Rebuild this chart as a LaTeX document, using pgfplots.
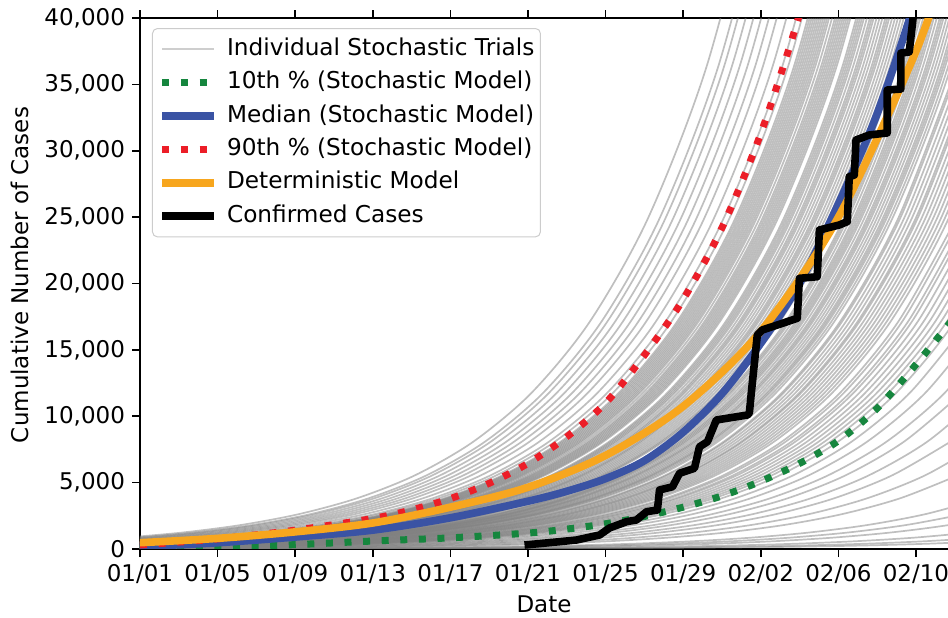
\documentclass[border=0pt]{standalone}
\usepackage{fontspec}
\setmainfont{DejaVu Sans}
\usepackage{pgfplots}
\usepackage{pgfplotstable}
\pgfplotsset{compat=1.18}
\definecolor{cgreen}{RGB}{22,134,62}
\definecolor{cblue}{RGB}{58,83,164}
\definecolor{cred}{RGB}{236,30,40}
\definecolor{corange}{RGB}{247,166,30}
\definecolor{ctrial}{RGB}{128,128,128}
\definecolor{cleg}{RGB}{204,204,204}

\pgfplotstableread{
Y a b c d e f g h i j k
90 0 -0.7 -1.3 -1.9 -2.4 -2.9 -0.4 -1.0 -1.6 -2.2 -2.7
131 3 2.3 1.7 1.1 0.6 0.1 2.6 2.0 1.4 0.8 0.3
191 6 5.3 4.7 4.1 3.6 3.1 5.6 5.0 4.4 3.8 3.3
277 9 8.3 7.7 7.1 6.6 6.1 8.6 8.0 7.4 6.8 6.3
403 12 11.3 10.7 10.1 9.6 9.1 11.6 11.0 10.4 9.8 9.3
587 15 14.3 13.7 13.1 12.6 12.1 14.6 14.0 13.4 12.8 12.3
854 18 17.3 16.7 16.1 15.6 15.1 17.6 17.0 16.4 15.8 15.3
1243 21 20.3 19.7 19.1 18.6 18.1 20.6 20.0 19.4 18.8 18.3
1808 24 23.3 22.7 22.1 21.6 21.1 23.6 23.0 22.4 21.8 21.3
2631 27 26.3 25.7 25.1 24.6 24.1 26.6 26.0 25.4 24.8 24.3
3828 30 29.3 28.7 28.1 27.6 27.1 29.6 29.0 28.4 27.8 27.3
5569 33 32.3 31.7 31.1 30.6 30.1 32.6 32.0 31.4 30.8 30.3
8103 36 35.3 34.7 34.1 33.6 33.1 35.6 35.0 34.4 33.8 33.3
11789 39 38.3 37.7 37.1 36.6 36.1 38.6 38.0 37.4 36.8 36.3
17154 42 41.3 40.7 40.1 39.6 39.1 41.6 41.0 40.4 39.8 39.3
24959 45 44.3 43.7 43.1 42.6 42.1 44.6 44.0 43.4 42.8 42.3
}\gA

\pgfplotstableread{
Y a b c d e f g h i j k l m n o
131 -0.3 -0.7 -1.1 -1.5 -1.9 -2.2 -2.6 -2.9 -0.5 -0.9 -1.3 -1.7 -2.0 -2.4 -2.8
191 2.7 2.3 1.9 1.5 1.1 0.8 0.4 0.1 2.5 2.1 1.7 1.3 1.0 0.6 0.2
277 5.7 5.3 4.9 4.5 4.1 3.8 3.4 3.1 5.5 5.1 4.7 4.3 4.0 3.6 3.2
403 8.7 8.3 7.9 7.5 7.1 6.8 6.4 6.1 8.5 8.1 7.7 7.3 7.0 6.6 6.2
587 11.7 11.3 10.9 10.5 10.1 9.8 9.4 9.1 11.5 11.1 10.7 10.3 10.0 9.6 9.2
854 14.7 14.3 13.9 13.5 13.1 12.8 12.4 12.1 14.5 14.1 13.7 13.3 13.0 12.6 12.2
1243 17.7 17.3 16.9 16.5 16.1 15.8 15.4 15.1 17.5 17.1 16.7 16.3 16.0 15.6 15.2
1808 20.7 20.3 19.9 19.5 19.1 18.8 18.4 18.1 20.5 20.1 19.7 19.3 19.0 18.6 18.2
2631 23.7 23.3 22.9 22.5 22.1 21.8 21.4 21.1 23.5 23.1 22.7 22.3 22.0 21.6 21.2
3828 26.7 26.3 25.9 25.5 25.1 24.8 24.4 24.1 26.5 26.1 25.7 25.3 25.0 24.6 24.2
5569 29.7 29.3 28.9 28.5 28.1 27.8 27.4 27.1 29.5 29.1 28.7 28.3 28.0 27.6 27.2
8103 32.7 32.3 31.9 31.5 31.1 30.8 30.4 30.1 32.5 32.1 31.7 31.3 31.0 30.6 30.2
11789 35.7 35.3 34.9 34.5 34.1 33.8 33.4 33.1 35.5 35.1 34.7 34.3 34.0 33.6 33.2
17154 38.7 38.3 37.9 37.5 37.1 36.8 36.4 36.1 38.5 38.1 37.7 37.3 37.0 36.6 36.2
24959 41.7 41.3 40.9 40.5 40.1 39.8 39.4 39.1 41.5 41.1 40.7 40.3 40.0 39.6 39.2
36316 44.7 44.3 43.9 43.5 43.1 42.8 42.4 42.1 44.5 44.1 43.7 43.3 43.0 42.6 42.2
}\gB

\pgfplotstableread{
Y a b c d e f g h i j k
191 -0.2 -0.5 -0.7 -1.0 -1.3 -1.5 -1.8 -2.0 -2.2 -2.5 -2.7
277 2.8 2.5 2.3 2.0 1.7 1.5 1.2 1.0 0.8 0.5 0.3
403 5.8 5.5 5.3 5.0 4.7 4.5 4.2 4.0 3.8 3.5 3.3
587 8.8 8.5 8.3 8.0 7.7 7.5 7.2 7.0 6.8 6.5 6.3
854 11.8 11.5 11.3 11.0 10.7 10.5 10.2 10.0 9.8 9.5 9.3
1243 14.8 14.5 14.3 14.0 13.7 13.5 13.2 13.0 12.8 12.5 12.3
1808 17.8 17.5 17.3 17.0 16.7 16.5 16.2 16.0 15.8 15.5 15.3
2631 20.8 20.5 20.3 20.0 19.7 19.5 19.2 19.0 18.8 18.5 18.3
3828 23.8 23.5 23.3 23.0 22.7 22.5 22.2 22.0 21.8 21.5 21.3
5569 26.8 26.5 26.3 26.0 25.7 25.5 25.2 25.0 24.8 24.5 24.3
8103 29.8 29.5 29.3 29.0 28.7 28.5 28.2 28.0 27.8 27.5 27.3
11789 32.8 32.5 32.3 32.0 31.7 31.5 31.2 31.0 30.8 30.5 30.3
17154 35.8 35.5 35.3 35.0 34.7 34.5 34.2 34.0 33.8 33.5 33.3
24959 38.8 38.5 38.3 38.0 37.7 37.5 37.2 37.0 36.8 36.5 36.3
36316 41.8 41.5 41.3 41.0 40.7 40.5 40.2 40.0 39.8 39.5 39.3
52838 44.8 44.5 44.3 44.0 43.7 43.5 43.2 43.0 42.8 42.5 42.3
}\gC

\pgfplotstableread{
Y a b c d e f g h i j
191 -0.35 -0.6 -0.85 -1.15 -1.4 -1.65 -1.9 -2.1 -2.35 -2.6
277 2.65 2.4 2.15 1.85 1.6 1.35 1.1 0.9 0.65 0.4
403 5.65 5.4 5.15 4.85 4.6 4.35 4.1 3.9 3.65 3.4
587 8.65 8.4 8.15 7.85 7.6 7.35 7.1 6.9 6.65 6.4
854 11.65 11.4 11.15 10.85 10.6 10.35 10.1 9.9 9.65 9.4
1243 14.65 14.4 14.15 13.85 13.6 13.35 13.1 12.9 12.65 12.4
1808 17.65 17.4 17.15 16.85 16.6 16.35 16.1 15.9 15.65 15.4
2631 20.65 20.4 20.15 19.85 19.6 19.35 19.1 18.9 18.65 18.4
3828 23.65 23.4 23.15 22.85 22.6 22.35 22.1 21.9 21.65 21.4
5569 26.65 26.4 26.15 25.85 25.6 25.35 25.1 24.9 24.65 24.4
8103 29.65 29.4 29.15 28.85 28.6 28.35 28.1 27.9 27.65 27.4
11789 32.65 32.4 32.15 31.85 31.6 31.35 31.1 30.9 30.65 30.4
17154 35.65 35.4 35.15 34.85 34.6 34.35 34.1 33.9 33.65 33.4
24959 38.65 38.4 38.15 37.85 37.6 37.35 37.1 36.9 36.65 36.4
36316 41.65 41.4 41.15 40.85 40.6 40.35 40.1 39.9 39.65 39.4
52838 44.65 44.4 44.15 43.85 43.6 43.35 43.1 42.9 42.65 42.4
}\gCC

\pgfplotstableread{
Y a b c d e f g h i j k l
277 0 -0.2 -0.5 -0.8 -1.1 -1.3 -1.6 -1.9 -2.1 -2.4 -2.6 -2.8
403 3 2.8 2.5 2.2 1.9 1.7 1.4 1.1 0.9 0.6 0.4 0.2
587 6 5.8 5.5 5.2 4.9 4.7 4.4 4.1 3.9 3.6 3.4 3.2
854 9 8.8 8.5 8.2 7.9 7.7 7.4 7.1 6.9 6.6 6.4 6.2
1243 12 11.8 11.5 11.2 10.9 10.7 10.4 10.1 9.9 9.6 9.4 9.2
1808 15 14.8 14.5 14.2 13.9 13.7 13.4 13.1 12.9 12.6 12.4 12.2
2631 18 17.8 17.5 17.2 16.9 16.7 16.4 16.1 15.9 15.6 15.4 15.2
3828 21 20.8 20.5 20.2 19.9 19.7 19.4 19.1 18.9 18.6 18.4 18.2
5569 24 23.8 23.5 23.2 22.9 22.7 22.4 22.1 21.9 21.6 21.4 21.2
8103 27 26.8 26.5 26.2 25.9 25.7 25.4 25.1 24.9 24.6 24.4 24.2
11789 30 29.8 29.5 29.2 28.9 28.7 28.4 28.1 27.9 27.6 27.4 27.2
17154 33 32.8 32.5 32.2 31.9 31.7 31.4 31.1 30.9 30.6 30.4 30.2
24959 36 35.8 35.5 35.2 34.9 34.7 34.4 34.1 33.9 33.6 33.4 33.2
36316 39 38.8 38.5 38.2 37.9 37.7 37.4 37.1 36.9 36.6 36.4 36.2
52838 42 41.8 41.5 41.2 40.9 40.7 40.4 40.1 39.9 39.6 39.4 39.2
}\gD

\pgfplotstableread{
Y a b c d e f g h i j k
277 -0.1 -0.35 -0.65 -0.95 -1.2 -1.45 -1.75 -2.0 -2.25 -2.5 -2.7
403 2.9 2.65 2.35 2.05 1.8 1.55 1.25 1.0 0.75 0.5 0.3
587 5.9 5.65 5.35 5.05 4.8 4.55 4.25 4.0 3.75 3.5 3.3
854 8.9 8.65 8.35 8.05 7.8 7.55 7.25 7.0 6.75 6.5 6.3
1243 11.9 11.65 11.35 11.05 10.8 10.55 10.25 10.0 9.75 9.5 9.3
1808 14.9 14.65 14.35 14.05 13.8 13.55 13.25 13.0 12.75 12.5 12.3
2631 17.9 17.65 17.35 17.05 16.8 16.55 16.25 16.0 15.75 15.5 15.3
3828 20.9 20.65 20.35 20.05 19.8 19.55 19.25 19.0 18.75 18.5 18.3
5569 23.9 23.65 23.35 23.05 22.8 22.55 22.25 22.0 21.75 21.5 21.3
8103 26.9 26.65 26.35 26.05 25.8 25.55 25.25 25.0 24.75 24.5 24.3
11789 29.9 29.65 29.35 29.05 28.8 28.55 28.25 28.0 27.75 27.5 27.3
17154 32.9 32.65 32.35 32.05 31.8 31.55 31.25 31.0 30.75 30.5 30.3
24959 35.9 35.65 35.35 35.05 34.8 34.55 34.25 34.0 33.75 33.5 33.3
36316 38.9 38.65 38.35 38.05 37.8 37.55 37.25 37.0 36.75 36.5 36.3
52838 41.9 41.65 41.35 41.05 40.8 40.55 40.25 40.0 39.75 39.5 39.3
}\gDD

\pgfplotstableread{
Y a b c d e f g h i j k l m
403 -0.1 -0.3 -0.5 -0.7 -0.9 -1.2 -1.4 -1.6 -1.8 -2.0 -2.1 -2.3 -2.9
587 2.9 2.7 2.5 2.3 2.1 1.8 1.6 1.4 1.2 1.0 0.9 0.7 0.1
854 5.9 5.7 5.5 5.3 5.1 4.8 4.6 4.4 4.2 4.0 3.9 3.7 3.1
1243 8.9 8.7 8.5 8.3 8.1 7.8 7.6 7.4 7.2 7.0 6.9 6.7 6.1
1808 11.9 11.7 11.5 11.3 11.1 10.8 10.6 10.4 10.2 10.0 9.9 9.7 9.1
2631 14.9 14.7 14.5 14.3 14.1 13.8 13.6 13.4 13.2 13.0 12.9 12.7 12.1
3828 17.9 17.7 17.5 17.3 17.1 16.8 16.6 16.4 16.2 16.0 15.9 15.7 15.1
5569 20.9 20.7 20.5 20.3 20.1 19.8 19.6 19.4 19.2 19.0 18.9 18.7 18.1
8103 23.9 23.7 23.5 23.3 23.1 22.8 22.6 22.4 22.2 22.0 21.9 21.7 21.1
11789 26.9 26.7 26.5 26.3 26.1 25.8 25.6 25.4 25.2 25.0 24.9 24.7 24.1
17154 29.9 29.7 29.5 29.3 29.1 28.8 28.6 28.4 28.2 28.0 27.9 27.7 27.1
24959 32.9 32.7 32.5 32.3 32.1 31.8 31.6 31.4 31.2 31.0 30.9 30.7 30.1
36316 35.9 35.7 35.5 35.3 35.1 34.8 34.6 34.4 34.2 34.0 33.9 33.7 33.1
52838 38.9 38.7 38.5 38.3 38.1 37.8 37.6 37.4 37.2 37.0 36.9 36.7 36.1
}\gE

\pgfplotstableread{
Y a b c d e f g h i j k
403 -0.2 -0.4 -0.6 -0.8 -1.05 -1.3 -1.5 -1.7 -1.9 -2.2 -2.6
587 2.8 2.6 2.4 2.2 1.95 1.7 1.5 1.3 1.1 0.8 0.4
854 5.8 5.6 5.4 5.2 4.95 4.7 4.5 4.3 4.1 3.8 3.4
1243 8.8 8.6 8.4 8.2 7.95 7.7 7.5 7.3 7.1 6.8 6.4
1808 11.8 11.6 11.4 11.2 10.95 10.7 10.5 10.3 10.1 9.8 9.4
2631 14.8 14.6 14.4 14.2 13.95 13.7 13.5 13.3 13.1 12.8 12.4
3828 17.8 17.6 17.4 17.2 16.95 16.7 16.5 16.3 16.1 15.8 15.4
5569 20.8 20.6 20.4 20.2 19.95 19.7 19.5 19.3 19.1 18.8 18.4
8103 23.8 23.6 23.4 23.2 22.95 22.7 22.5 22.3 22.1 21.8 21.4
11789 26.8 26.6 26.4 26.2 25.95 25.7 25.5 25.3 25.1 24.8 24.4
17154 29.8 29.6 29.4 29.2 28.95 28.7 28.5 28.3 28.1 27.8 27.4
24959 32.8 32.6 32.4 32.2 31.95 31.7 31.5 31.3 31.1 30.8 30.4
36316 35.8 35.6 35.4 35.2 34.95 34.7 34.5 34.3 34.1 33.8 33.4
52838 38.8 38.6 38.4 38.2 37.95 37.7 37.5 37.3 37.1 36.8 36.4
}\gEE

\pgfplotstableread{
Y a b c d e f g
587 -0.9 -1.7 -2.5 -0.4 -1.3 -2.1 -2.9
854 2.1 1.3 0.5 2.6 1.7 0.9 0.1
1243 5.1 4.3 3.5 5.6 4.7 3.9 3.1
1808 8.1 7.3 6.5 8.6 7.7 6.9 6.1
2631 11.1 10.3 9.5 11.6 10.7 9.9 9.1
3828 14.1 13.3 12.5 14.6 13.7 12.9 12.1
5569 17.1 16.3 15.5 17.6 16.7 15.9 15.1
8103 20.1 19.3 18.5 20.6 19.7 18.9 18.1
11789 23.1 22.3 21.5 23.6 22.7 21.9 21.1
17154 26.1 25.3 24.5 26.6 25.7 24.9 24.1
24959 29.1 28.3 27.5 29.6 28.7 27.9 27.1
36316 32.1 31.3 30.5 32.6 31.7 30.9 30.1
52838 35.1 34.3 33.5 35.6 34.7 33.9 33.1
}\gF

\pgfplotstableread{
Y a b
854 -0.2 -0.8
1243 2.8 2.2
1808 5.8 5.2
2631 8.8 8.2
3828 11.8 11.2
5569 14.8 14.2
8103 17.8 17.2
11789 20.8 20.2
17154 23.8 23.2
24959 26.8 26.2
36316 29.8 29.2
52838 32.8 32.2
}\gG

\begin{document}
\begin{tikzpicture}
\begin{axis}[
  name=ax,
  scale only axis, width=404bp, height=265.5bp,
  xmin=0, xmax=41.65, ymin=0, ymax=40000,
  axis x line*=box, axis y line*=left,
  axis line style={line width=0.8bp},
  tick align=outside, major tick length=4bp,
  tick style={line width=0.8bp, black},
  xtick={0,4,...,40},
  xticklabels={01/01,01/05,01/09,01/13,01/17,01/21,01/25,01/29,02/02,02/06,02/10},
  ytick={0,5000,...,40000},
  scaled y ticks=false,
  /pgf/number format/1000 sep={,},
  /pgf/number format/assume math mode=true,
  tick label style={font=\fontsize{11.5bp}{13bp}\selectfont},
  label style={font=\fontsize{11.5bp}{13bp}\selectfont},
  xlabel={Date},
  ylabel={Cumulative Number of Cases},
  xlabel style={at={(axis description cs:0.5,-0.105)}, anchor=center},
  ylabel style={at={(axis description cs:-0.1485,0.516)}, anchor=center},
  legend style={at={(rel axis cs:0,1)}, anchor=north west, xshift=6bp, yshift=-5bp,
    draw=cleg, line width=0.5bp, rounded corners=2.5bp,
    fill=white, fill opacity=0.8, text opacity=1, draw opacity=1,
    font=\fontsize{11.6bp}{13bp}\selectfont,
    inner xsep=3bp, inner ysep=2bp, row sep=0bp,
    nodes={inner xsep=0bp, inner ysep=2.9bp, text height=8.5bp, text depth=2.4bp},
    /tikz/every odd column/.append style={column sep=4.5bp}},
  legend cell align=left,
  legend image code/.code={\draw[#1] (0bp,0bp) -- (26bp,0bp);},
  trial/.style={ctrial, opacity=0.5, line width=0.85bp, smooth, forget plot},
]
\addlegendimage{ctrial, opacity=0.38, line width=1bp}
\addlegendentry{Individual Stochastic Trials}

\addplot[trial] coordinates {(-1.3,2.1)(1.7,3.1)(4.7,4.5)(7.7,6.5)(10.7,9.5)(13.7,13.8)(16.7,20.1)(19.7,29.2)(22.7,42.5)(25.7,61.9)(28.7,90)(31.7,131)(34.7,191)(37.7,277)(40.7,403)(43.7,587)};
\addplot[trial] coordinates {(-1.5,3.1)(1.5,4.5)(4.5,6.5)(7.5,9.5)(10.5,13.8)(13.5,20.1)(16.5,29.2)(19.5,42.5)(22.5,61.9)(25.5,90)(28.5,131)(31.5,191)(34.5,277)(37.5,403)(40.5,587)(43.5,854)};
\addplot[trial] coordinates {(-2.1,4.5)(0.9,6.5)(3.9,9.5)(6.9,13.8)(9.9,20.1)(12.9,29.2)(15.9,42.5)(18.9,61.9)(21.9,90)(24.9,131)(27.9,191)(30.9,277)(33.9,403)(36.9,587)(39.9,854)(42.9,1243)};
\addplot[trial] coordinates {(-0.3,9.5)(2.7,13.8)(5.7,20.1)(8.7,29.2)(11.7,42.5)(14.7,61.9)(17.7,90)(20.7,131)(23.7,191)(26.7,277)(29.7,403)(32.7,587)(35.7,854)(38.7,1243)(41.7,1808)(44.7,2631)};
\addplot[trial] coordinates {(-2.5,9.5)(0.5,13.8)(3.5,20.1)(6.5,29.2)(9.5,42.5)(12.5,61.9)(15.5,90)(18.5,131)(21.5,191)(24.5,277)(27.5,403)(30.5,587)(33.5,854)(36.5,1243)(39.5,1808)(42.5,2631)};
\addplot[trial] coordinates {(-1.5,13.8)(1.5,20.1)(4.5,29.2)(7.5,42.5)(10.5,61.9)(13.5,90)(16.5,131)(19.5,191)(22.5,277)(25.5,403)(28.5,587)(31.5,854)(34.5,1243)(37.5,1808)(40.5,2631)(43.5,3828)};
\addplot[trial] coordinates {(-2.8,20.1)(0.2,29.2)(3.2,42.5)(6.2,61.9)(9.2,90)(12.2,131)(15.2,191)(18.2,277)(21.2,403)(24.2,587)(27.2,854)(30.2,1243)(33.2,1808)(36.2,2631)(39.2,3828)(42.2,5569)};
\addplot[trial] coordinates {(-1.5,29.2)(1.5,42.5)(4.5,61.9)(7.5,90)(10.5,131)(13.5,191)(16.5,277)(19.5,403)(22.5,587)(25.5,854)(28.5,1243)(31.5,1808)(34.5,2631)(37.5,3828)(40.5,5569)(43.5,8103)};
\addplot[trial] coordinates {(-0.2,42.5)(2.8,61.9)(5.8,90)(8.8,131)(11.8,191)(14.8,277)(17.8,403)(20.8,587)(23.8,854)(26.8,1243)(29.8,1808)(32.8,2631)(35.8,3828)(38.8,5569)(41.8,8103)};
\addplot[trial] coordinates {(-1.4,42.5)(1.6,61.9)(4.6,90)(7.6,131)(10.6,191)(13.6,277)(16.6,403)(19.6,587)(22.6,854)(25.6,1243)(28.6,1808)(31.6,2631)(34.6,3828)(37.6,5569)(40.6,8103)(43.6,11789)};
\addplot[trial] coordinates {(-2.6,42.5)(0.4,61.9)(3.4,90)(6.4,131)(9.4,191)(12.4,277)(15.4,403)(18.4,587)(21.4,854)(24.4,1243)(27.4,1808)(30.4,2631)(33.4,3828)(36.4,5569)(39.4,8103)(42.4,11789)};
\addplot[trial] coordinates {(-0.5,61.9)(2.5,90)(5.5,131)(8.5,191)(11.5,277)(14.5,403)(17.5,587)(20.5,854)(23.5,1243)(26.5,1808)(29.5,2631)(32.5,3828)(35.5,5569)(38.5,8103)(41.5,11789)(44.5,17154)};
\addplot[trial] coordinates {(-1.5,61.9)(1.5,90)(4.5,131)(7.5,191)(10.5,277)(13.5,403)(16.5,587)(19.5,854)(22.5,1243)(25.5,1808)(28.5,2631)(31.5,3828)(34.5,5569)(37.5,8103)(40.5,11789)(43.5,17154)};
\addplot[trial] coordinates {(-2.3,61.9)(0.7,90)(3.7,131)(6.7,191)(9.7,277)(12.7,403)(15.7,587)(18.7,854)(21.7,1243)(24.7,1808)(27.7,2631)(30.7,3828)(33.7,5569)(36.7,8103)(39.7,11789)(42.7,17154)};

\pgfplotsinvokeforeach{a,b,c,d,e,f,g,h,i,j,k}{\addplot[trial] table[x=#1,y=Y]{\gA};}
\pgfplotsinvokeforeach{a,b,c,d,e,f,g,h,i,j,k,l,m,n,o}{\addplot[trial] table[x=#1,y=Y]{\gB};}
\pgfplotsinvokeforeach{a,b,c,d,e,f,g,h,i,j,k}{\addplot[trial] table[x=#1,y=Y]{\gC};}
\pgfplotsinvokeforeach{a,b,c,d,e,f,g,h,i,j}{\addplot[trial] table[x=#1,y=Y]{\gCC};}
\pgfplotsinvokeforeach{a,b,c,d,e,f,g,h,i,j,k,l}{\addplot[trial] table[x=#1,y=Y]{\gD};}
\pgfplotsinvokeforeach{a,b,c,d,e,f,g,h,i,j,k}{\addplot[trial] table[x=#1,y=Y]{\gDD};}
\pgfplotsinvokeforeach{a,b,c,d,e,f,g,h,i,j,k,l,m}{\addplot[trial] table[x=#1,y=Y]{\gE};}
\pgfplotsinvokeforeach{a,b,c,d,e,f,g,h,i,j,k}{\addplot[trial] table[x=#1,y=Y]{\gEE};}
\pgfplotsinvokeforeach{a,b,c,d,e,f,g}{\addplot[trial] table[x=#1,y=Y]{\gF};}
\pgfplotsinvokeforeach{a,b}{\addplot[trial] table[x=#1,y=Y]{\gG};}

\addplot[cgreen, line width=3.5bp, dash pattern=on 3.5bp off 5.8bp, smooth] coordinates {(0,60)(4,160)(8,330)(12,600)(16,840)(20,1200)(22,1500)(24,1900)(26,2450)(28,3150)(30,4000)(32,5100)(34,6450)(36,8150)(38,10600)(40,13900)(42,17500)};
\addlegendentry{10th \% (Stochastic Model)}
\addplot[cblue, line width=3.8bp, smooth] coordinates {(0,180)(4,470)(8,900)(12,1420)(16,2350)(20,3600)(22,4350)(24,5300)(26,6650)(28,8800)(30,11700)(32,15500)(34,20000)(36,26000)(38,32800)(40,41500)(42,52000)};
\addlegendentry{Median (Stochastic Model)}
\addplot[cred, line width=3.5bp, dash pattern=on 3.5bp off 5.8bp, smooth] coordinates {(0,300)(4,760)(8,1420)(12,2300)(14,2950)(16,3800)(18,4950)(20,6450)(22,8450)(24,11000)(26,14600)(28,18800)(30,24200)(32,31300)(34,40300)(36,51000)};
\addlegendentry{90th \% (Stochastic Model)}
\addplot[corange, line width=3.8bp, smooth] coordinates {(0,475)(4,800)(8,1290)(12,1960)(16,3150)(20,4650)(24,7050)(28,10750)(32,16400)(36,25000)(40,37500)(42,46000)};
\addlegendentry{Deterministic Model}
\addplot[black, line width=3.8bp, line join=round] coordinates {(19.82,300)(21.63,550)(22.5,678)(23.69,1055)(24.2,1582)(25.08,2057)(25.59,2185)(26.11,2810)(26.67,2938)(26.78,4445)(27.45,4690)(27.81,5700)(28.58,6080)(28.84,7700)(29.25,8080)(29.71,9718)(31.31,10094)(31.41,10245)(31.51,11750)(31.82,16120)(32.08,16500)(33.11,17000)(33.88,17380)(33.99,20390)(34.91,20510)(35.02,24030)(36.05,24410)(36.46,24660)(36.56,28050)(36.82,28170)(36.91,30810)(37.59,31187)(38.52,31340)(38.52,34576)(39.22,34650)(39.22,37360)(39.65,37440)(39.96,41400)};
\addlegendentry{Confirmed Cases}
\end{axis}
\pgfresetboundingbox
\path ([xshift=-70bp,yshift=-34.5bp]ax.south west) rectangle ([yshift=9bp]ax.north east);
\end{tikzpicture}
\end{document}
